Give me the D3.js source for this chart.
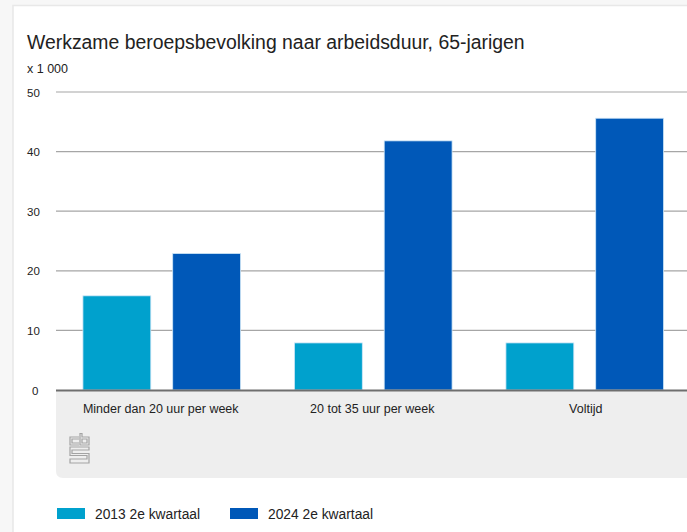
<!DOCTYPE html>
<html>
<head>
<meta charset="utf-8">
<script src="https://cdn.jsdelivr.net/npm/d3@7"></script>
<style>
  html, body { margin: 0; padding: 0; background: #f7f7f7; }
  svg { display: block; font-family: "Liberation Sans", Arial, Helvetica, sans-serif; }
</style>
</head>
<body>
<svg id="chart" width="687" height="532"></svg>
<script>
const categories = ["Minder dan 20 uur per week", "20 tot 35 uur per week", "Voltijd"];
const seriesNames = ["2013 2e kwartaal", "2024 2e kwartaal"];
const values2013 = [15.8, 7.9, 7.9];
const values2024 = [22.9, 41.8, 45.6];
const yTicks = [0, 10, 20, 30, 40, 50];
const colors = ["#00a1cd", "#0058b8"];

const svg = d3.select("#chart");
const W = 687, H = 532;

// card
svg.append("rect").attr("x", 13).attr("y", 5.5).attr("width", W).attr("height", H)
  .attr("fill", "#fff").attr("stroke", "#e8e8e8").attr("stroke-width", 1.5);

svg.append("text").attr("x", 27).attr("y", 49).attr("font-size", 19.4).attr("fill", "#222")
  .text("Werkzame beroepsbevolking naar arbeidsduur, 65-jarigen");
svg.append("text").attr("x", 27).attr("y", 73).attr("font-size", 12.5).attr("fill", "#222")
  .text("x 1 000");

const x0 = d3.scaleBand().domain(categories).range([56, 690.5]).paddingInner(0).paddingOuter(0);
const x1 = d3.scaleBand().domain(seriesNames).range([0, x0.bandwidth()]).paddingInner(0.244).paddingOuter(0.3);
const y = d3.scaleLinear().domain([0, 50]).range([390, 92]);

// gray panel
const px = 56, py = 391, pw = W - 56 + 10, ph = 87, r = 7;
svg.append("path")
  .attr("d", `M${px},${py} H${px+pw} V${py+ph} H${px+r} Q${px},${py+ph} ${px},${py+ph-r} Z`)
  .attr("fill", "#eeeeee");

// gridlines
svg.append("g").selectAll("line").data(yTicks.filter(d => d > 0)).join("line")
  .attr("x1", 56).attr("x2", W).attr("y1", d => y(d)).attr("y2", d => y(d))
  .attr("stroke", "#a6a6a6").attr("stroke-width", 1.2);

// y tick labels
svg.append("g").selectAll("text").data(yTicks).join("text")
  .attr("x", d => d === 0 ? 32 : 27).attr("y", d => y(d) + 4.5)
  .attr("font-size", 11.5).attr("fill", "#222")
  .text(d => d);

// bars
const data = categories.map((c, i) => ({ cat: c, vals: [values2013[i], values2024[i]] }));
const groups = svg.append("g").selectAll("g").data(data).join("g")
  .attr("transform", d => `translate(${x0(d.cat)},0)`);
groups.selectAll("rect").data(d => d.vals.map((v, j) => ({ v, s: seriesNames[j], j }))).join("rect")
  .attr("x", d => x1(d.s)).attr("width", x1.bandwidth())
  .attr("y", d => y(d.v)).attr("height", d => y(0) - y(d.v))
  .attr("fill", d => colors[d.j])
  .attr("stroke", "#cfe6f7").attr("stroke-width", 0.8);

// axis line
svg.append("line").attr("x1", 56).attr("x2", W).attr("y1", 390.5).attr("y2", 390.5)
  .attr("stroke", "#6e6e6e").attr("stroke-width", 2);

// category labels
svg.append("g").selectAll("text").data(categories).join("text")
  .attr("x", d => x0(d) + x0.bandwidth() / 2 + (d === "Voltijd" ? 1 : -1)).attr("y", 413)
  .attr("text-anchor", "middle").attr("font-size", 12.5).attr("fill", "#222")
  .text(d => d);

// CBS logo (simple line drawing)
const logo = svg.append("g").attr("transform", "translate(69,433)")
  .attr("fill", "none").attr("stroke", "#a3a3a3").attr("stroke-width", 1.2);
// "c"
logo.append("path").attr("d", "M10,4 H1 V12 H10 M10,6 H3 V10 H10");
// "b"
logo.append("path").attr("d", "M11,0.5 H13 V4 H20 V12 H11 Z M13,6 V10 H18 V6 Z");
// "s"
logo.append("path").attr("d", "M20,14 H1 V22.5 H18 V26 H1 V30 H20 V20.5 H3 V17 H20 Z");

// legend
const leg = svg.append("g").attr("transform", "translate(57,508)");
seriesNames.forEach((s, i) => {
  const gx = i === 0 ? 0 : 173;
  leg.append("rect").attr("x", gx).attr("y", 0).attr("width", 28).attr("height", 11).attr("fill", colors[i]);
  leg.append("text").attr("x", gx + 38).attr("y", 10.5).attr("font-size", 13.8).attr("fill", "#222").text(s);
});
</script>
</body>
</html>
